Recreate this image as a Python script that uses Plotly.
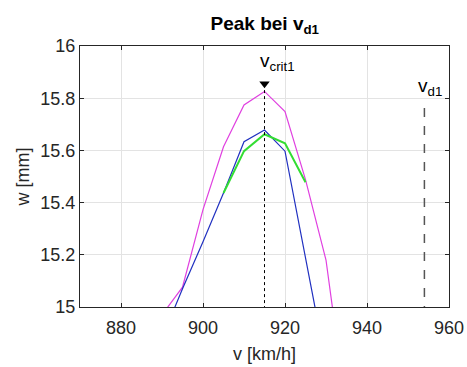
import plotly.graph_objects as go

# speed axis (km/h) and deflection series (mm)
v_magenta = [890, 895, 900, 905, 910, 915, 920, 925, 930, 935]
w_magenta = [14.97, 15.076, 15.373, 15.614, 15.774, 15.826, 15.749, 15.488, 15.18, 14.6]

v_blue = [890, 895, 900, 905, 910, 915, 920, 925, 930]
w_blue = [14.88, 15.07, 15.25, 15.437, 15.633, 15.678, 15.597, 15.19, 14.78]

v_green = [905, 910, 915, 920, 925]
w_green = [15.437, 15.597, 15.662, 15.627, 15.478]

v_crit1 = 915
w_crit1_marker = 15.855
v_d1 = 954
w_d1_top = 15.785

x_ticks = [880, 900, 920, 940, 960]
y_ticks = [15, 15.2, 15.4, 15.6, 15.8, 16]
y_tick_labels = ["15", "15.2", "15.4", "15.6", "15.8", "16"]

FONT = "Liberation Sans, Arial, sans-serif"
AX = "#262626"

fig = go.Figure()

fig.add_trace(go.Scatter(x=v_magenta, y=w_magenta, mode="lines",
                         line=dict(color="#e040e0", width=1.2), showlegend=False))
fig.add_trace(go.Scatter(x=v_blue, y=w_blue, mode="lines",
                         line=dict(color="#2030c0", width=1.2), showlegend=False))
fig.add_trace(go.Scatter(x=v_green, y=w_green, mode="lines",
                         line=dict(color="#33dd33", width=2), showlegend=False))

# critical speed marker line
fig.add_trace(go.Scatter(x=[v_crit1, v_crit1], y=[14.9, w_crit1_marker], mode="lines",
                         line=dict(color="black", width=1, dash="dot"), showlegend=False))
fig.add_trace(go.Scatter(x=[v_crit1], y=[w_crit1_marker], mode="markers",
                         marker=dict(symbol="triangle-down", size=9, color="black"),
                         showlegend=False))
# design speed line
fig.add_trace(go.Scatter(x=[v_d1, v_d1], y=[14.9, w_d1_top], mode="lines",
                         line=dict(color="#555555", width=1.5, dash="dash"), showlegend=False))

fig.add_annotation(x=v_crit1, y=15.885, text="v<sub>crit1</sub>", showarrow=False,
                   xanchor="left", yanchor="bottom", xshift=-7,
                   font=dict(family=FONT, size=19, color="black"))
fig.add_annotation(x=v_d1, y=15.79, text="v<sub>d1</sub>", showarrow=False,
                   xanchor="left", yanchor="bottom", xshift=-8,
                   font=dict(family=FONT, size=19, color="black"))

axis_common = dict(showline=True, linecolor=AX, linewidth=1, mirror="ticks",
                   ticks="inside", ticklen=4, tickcolor=AX, automargin=False,
                   showgrid=True, gridcolor="#e3e3e3", gridwidth=1, zeroline=False,
                   tickfont=dict(family=FONT, size=18, color=AX))

fig.update_xaxes(range=[870, 960], tickvals=x_ticks, ticklabelstandoff=4, **axis_common,
                 title=dict(text="v [km/h]", font=dict(family=FONT, size=18, color=AX),
                            standoff=10))
fig.update_yaxes(range=[15, 16], tickvals=y_ticks, ticktext=y_tick_labels, **axis_common,
                 title=dict(text="w [mm]", font=dict(family=FONT, size=18, color=AX),
                            standoff=6))

fig.update_layout(
    width=467, height=367,
    margin=dict(l=80, r=18, t=46, b=60, autoexpand=False),
    plot_bgcolor="white", paper_bgcolor="white",
    title=dict(text="<b>Peak bei v<sub>d1</sub></b>", x=0.567, xanchor="center",
               y=0.936, yanchor="middle",
               font=dict(family=FONT, size=19, color="black")),
)

fig.write_html("out.html")
